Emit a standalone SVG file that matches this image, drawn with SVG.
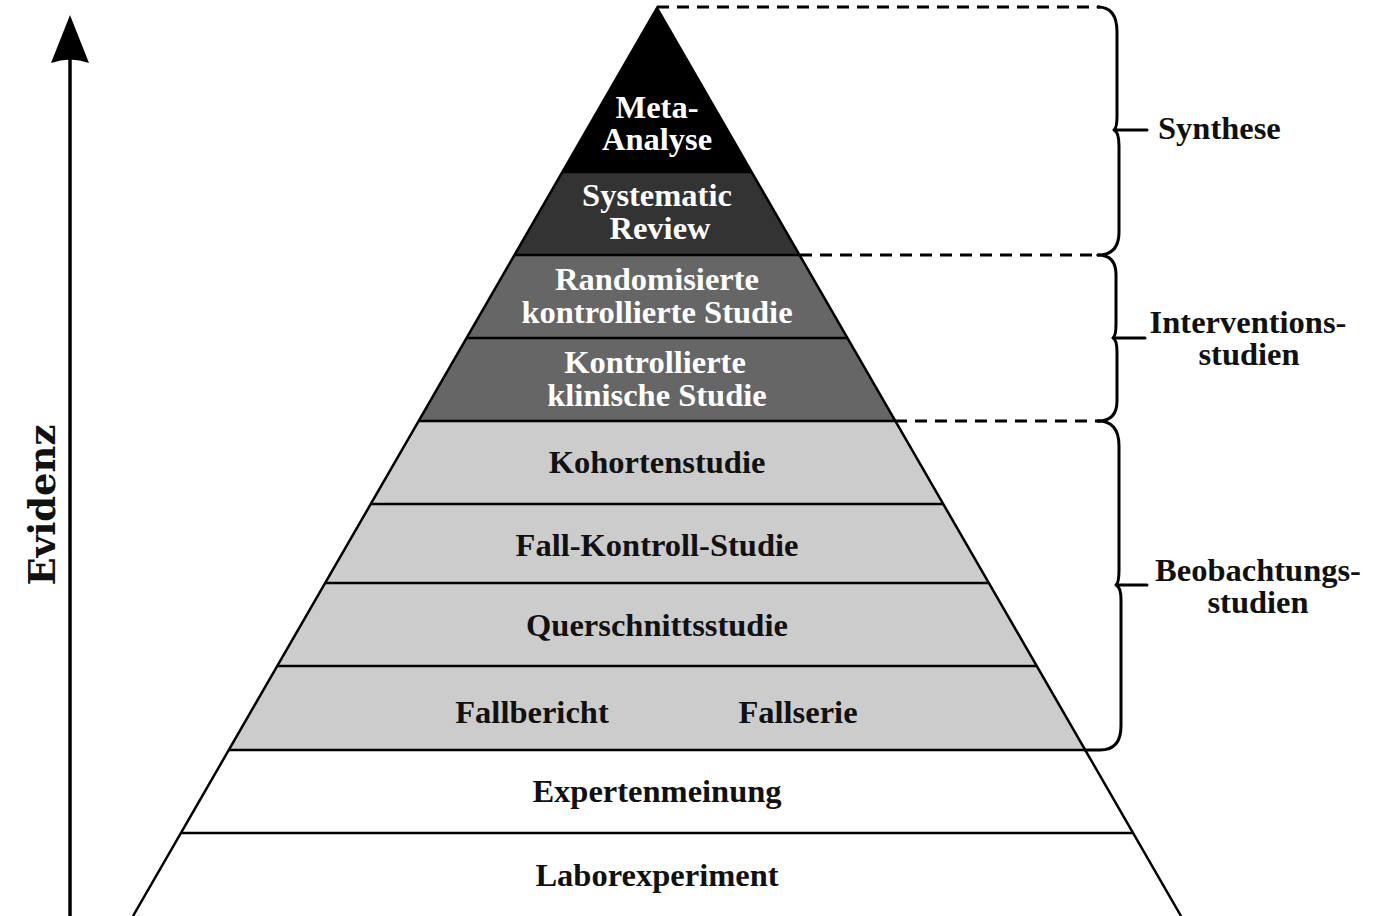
<svg xmlns="http://www.w3.org/2000/svg" width="1391" height="916" viewBox="0 0 1391 916">
<style>
.lay{stroke:none}
.sep{stroke:#000;stroke-width:2.5;fill:none}
.t{font-family:"Liberation Serif","DejaVu Serif",serif;font-weight:bold;font-size:32.5px;text-anchor:middle;fill:#111}
.w{fill:#fff}
.br{stroke:#000;stroke-width:3;fill:none;stroke-linejoin:round;stroke-linecap:round}
.dash{stroke:#000;stroke-width:3;stroke-dasharray:12 8;fill:none}
</style>
<rect width="1391" height="916" fill="#fff"/>
<g id="pyramid">
<g id="meta"><polygon class="lay" fill="#000" points="657,8 751.6,172 562.4,172"/>
<text class="t w" x="657" y="118">Meta-</text><text class="t w" x="657" y="150">Analyse</text></g>
<g id="sysrev"><polygon class="lay" fill="#333" points="562.4,172 751.6,172 799.5,255 514.5,255"/>
<text class="t w" x="657" y="206">Systematic</text><text class="t w" x="660" y="239">Review</text></g>
<g id="rct"><polygon class="lay" fill="#666" points="514.5,255 799.5,255 847.4,338 466.6,338"/>
<text class="t w" x="657" y="290">Randomisierte</text><text class="t w" x="657" y="323">kontrollierte Studie</text></g>
<g id="cct"><polygon class="lay" fill="#666" points="466.6,338 847.4,338 895.3,421 418.7,421"/>
<text class="t w" x="655" y="373">Kontrollierte</text><text class="t w" x="657" y="406">klinische Studie</text></g>
<g id="kohorte"><polygon class="lay" fill="#ccc" points="418.7,421 895.3,421 943.2,504 370.8,504"/>
<text class="t" x="657" y="473">Kohortenstudie</text></g>
<g id="fallkontroll"><polygon class="lay" fill="#ccc" points="370.8,504 943.2,504 988.8,583 325.2,583"/>
<text class="t" x="657" y="556">Fall-Kontroll-Studie</text></g>
<g id="querschnitt"><polygon class="lay" fill="#ccc" points="325.2,583 988.8,583 1036.7,666 277.3,666"/>
<text class="t" x="657" y="636">Querschnittsstudie</text></g>
<g id="fall"><polygon class="lay" fill="#ccc" points="277.3,666 1036.7,666 1085.2,750 228.8,750"/>
<text class="t" x="532" y="723">Fallbericht</text><text class="t" x="798" y="723">Fallserie</text></g>
<g id="experten"><polygon class="lay" fill="#fff" points="228.8,750 1085.2,750 1133.1,833 180.9,833"/>
<text class="t" x="657" y="802">Expertenmeinung</text></g>
<g id="labor"><polygon class="lay" fill="#fff" points="180.9,833 1133.1,833 1181,916 133,916"/>
<text class="t" x="657" y="886">Laborexperiment</text></g>
<g id="outline">
<polyline class="sep" stroke-width="3" points="133,916 657,8 1181,916"/>
<line class="sep" stroke="#222" x1="562.4" y1="172" x2="751.6" y2="172"/>
<line class="sep" x1="514.5" y1="255" x2="799.5" y2="255"/>
<line class="sep" x1="466.6" y1="338" x2="847.4" y2="338"/>
<line class="sep" x1="418.7" y1="421" x2="895.3" y2="421"/>
<line class="sep" x1="370.8" y1="504" x2="943.2" y2="504"/>
<line class="sep" x1="325.2" y1="583" x2="988.8" y2="583"/>
<line class="sep" x1="277.3" y1="666" x2="1036.7" y2="666"/>
<line class="sep" x1="228.8" y1="750" x2="1085.2" y2="750"/>
<line class="sep" x1="180.9" y1="833" x2="1133.1" y2="833"/>
</g>
</g>
<g id="connectors">
<line class="dash" x1="657" y1="7" x2="1100" y2="7"/>
<line class="dash" x1="800" y1="255" x2="1100" y2="255"/>
<line class="dash" x1="895" y1="421" x2="1100" y2="421"/>
<path class="br" d="M1098,7 Q1117,7 1117,32 L1117,116 Q1117,128 1114,130 Q1119,132 1119,146 L1119,232 Q1119,255 1098,255"/>
<line class="br" x1="1116" y1="130" x2="1147" y2="130"/>
<path class="br" d="M1098,255 Q1116,255 1116,275 L1116,324 Q1116,336 1113,338 Q1117,340 1117,352 L1117,401 Q1117,421 1098,421"/>
<line class="br" x1="1115" y1="338" x2="1145" y2="338"/>
<path class="br" d="M1098,421 Q1119,421 1119,446 L1119,570 Q1119,583 1116,585 Q1121,587 1121,600 L1121,726 Q1121,750 1100,750 L1085,750"/>
<line class="br" x1="1118" y1="585" x2="1147" y2="585"/>
<line x1="70" y1="916" x2="70" y2="55" stroke="#000" stroke-width="3.5"/>
<path d="M70,15 L89,63 Q70,56 51,63 Z" fill="#000"/>
</g>
<g id="labels">
<text class="t" style="text-anchor:start" x="1158" y="139">Synthese</text>
<text class="t" x="1248" y="333">Interventions-</text>
<text class="t" x="1249" y="365">studien</text>
<text class="t" x="1258" y="581">Beobachtungs-</text>
<text class="t" x="1258" y="613">studien</text>
<text transform="translate(55,505) rotate(-90)" style="font-family:'DejaVu Serif',serif;font-weight:bold;font-size:37px;text-anchor:middle;fill:#111">Evidenz</text>
</g>
</svg>
